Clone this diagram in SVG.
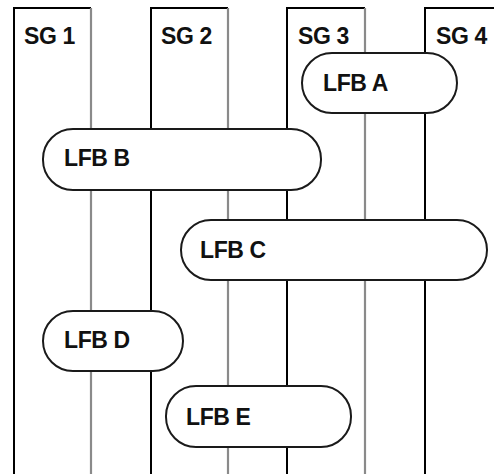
<svg xmlns="http://www.w3.org/2000/svg" width="494" height="474" viewBox="0 0 494 474">
  <style>
    .edge { stroke: #000; stroke-width: 2; fill: none; }
    .gray { stroke: #8a8a8a; stroke-width: 2.2; fill: none; }
    .lfb rect { fill: #fff; stroke: #1a1a1a; stroke-width: 2; }
    text { font-family: "Liberation Sans", Arial, sans-serif; font-weight: bold; font-size: 23px; letter-spacing: -0.4px; fill: #111; }
  </style>
  <rect width="494" height="474" fill="#fff"/>
  <g id="lanes">
    <g id="sg1">
      <path class="edge" d="M14 474 V8 H91"/>
      <line class="gray" x1="91" y1="8" x2="91" y2="474"/>
      <text x="24" y="44">SG 1</text>
    </g>
    <g id="sg2">
      <path class="edge" d="M151 474 V8 H228"/>
      <line class="gray" x1="228" y1="8" x2="228" y2="474"/>
      <text x="161" y="44">SG 2</text>
    </g>
    <g id="sg3">
      <path class="edge" d="M287 474 V8 H365"/>
      <line class="gray" x1="365" y1="8" x2="365" y2="474"/>
      <text x="298" y="44">SG 3</text>
    </g>
    <g id="sg4">
      <path class="edge" d="M425 474 V8 H494"/>
      <text x="436" y="44">SG 4</text>
    </g>
  </g>
  <g id="lfb-a" class="lfb">
    <rect x="302" y="53" width="155" height="60" rx="30" ry="30"/>
    <text x="323" y="91">LFB A</text>
  </g>
  <g id="lfb-b" class="lfb">
    <rect x="43" y="129" width="278" height="61" rx="30" ry="30"/>
    <text x="64" y="166">LFB B</text>
  </g>
  <g id="lfb-c" class="lfb">
    <rect x="181" y="220" width="306" height="60" rx="30" ry="30"/>
    <text x="200" y="258">LFB C</text>
  </g>
  <g id="lfb-d" class="lfb">
    <rect x="43" y="311" width="140" height="60" rx="30" ry="30"/>
    <text x="64" y="348">LFB D</text>
  </g>
  <g id="lfb-e" class="lfb">
    <rect x="166" y="386" width="185" height="61" rx="30" ry="30"/>
    <text x="186" y="425">LFB E</text>
  </g>
</svg>
